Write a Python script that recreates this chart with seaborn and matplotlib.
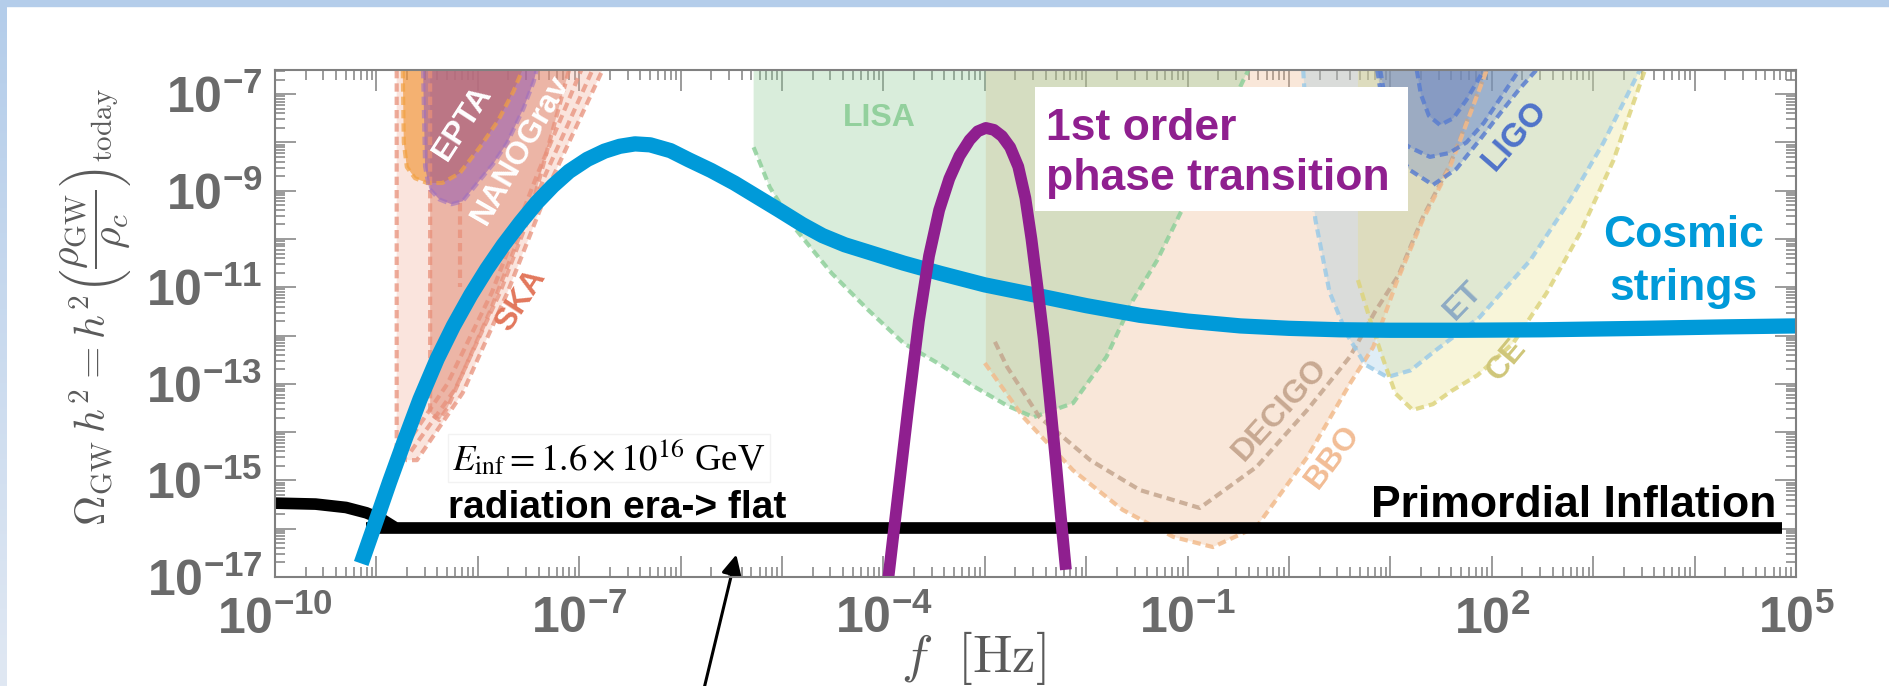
import numpy as np
import matplotlib
matplotlib.use("Agg")
import matplotlib.pyplot as plt
import seaborn as sns
from matplotlib.patches import Rectangle

# ---------------- data (log10 values) ----------------
# cosmic strings spectrum
cs_logf = [-9.15, -9.0, -8.87, -8.72, -8.57, -8.40, -8.24, -8.07, -7.91, -7.75, -7.58, -7.42,
           -7.26, -7.10, -6.92, -6.75, -6.60, -6.45, -6.30, -6.10, -5.92, -5.70, -5.47, -5.25,
           -5.03, -4.80, -4.60, -4.38, -4.15, -3.80, -3.44, -3.0, -2.46, -2.0, -1.47, -1.0,
           -0.48, 0.0, 0.5, 1.0, 1.69, 2.5, 3.5, 4.3, 5.0]
cs_logo = [-16.72, -15.82, -15.03, -14.16, -13.32, -12.48, -11.80, -11.16, -10.62, -10.13, -9.66, -9.25,
           -8.90, -8.60, -8.35, -8.18, -8.08, -8.03, -8.05, -8.17, -8.36, -8.58, -8.84, -9.12,
           -9.40, -9.70, -9.93, -10.12, -10.27, -10.50, -10.71, -10.95, -11.18, -11.38, -11.58, -11.70,
           -11.80, -11.85, -11.88, -11.89, -11.89, -11.88, -11.85, -11.82, -11.80]
# primordial inflation
inf_curve_logf = [-10.0, -9.6, -9.3, -9.1, -8.95, -8.82]
inf_curve_logo = [-15.47, -15.49, -15.56, -15.67, -15.80, -15.97]
inf_flat_logf = [-9.10, 4.86]
inf_flat_logo = [-15.99, -15.99]
# first order phase transition
pt_logf = [-3.95, -3.85, -3.75, -3.65, -3.55, -3.45, -3.35, -3.25, -3.15, -3.07, -2.99,
           -2.91, -2.83, -2.75, -2.67, -2.60, -2.54, -2.48, -2.42, -2.36, -2.30, -2.25, -2.20]
pt_logo = [-17.0, -15.2, -13.4, -11.7, -10.35, -9.4, -8.75, -8.28, -7.95, -7.77, -7.70,
           -7.74, -7.87, -8.10, -8.50, -9.15, -10.0, -11.0, -12.05, -13.3, -14.6, -15.75, -16.85]

# detector sensitivity curves
lisa_logf = [-5.28, -5.12, -4.86, -4.51, -4.15, -3.80, -3.44, -3.11, -2.78, -2.52, -2.13, -1.80,
             -1.54, -1.30, -1.07, -0.76, -0.45, -0.40]
lisa_logo = [-8.10, -8.93, -9.81, -10.71, -11.47, -12.16, -12.60, -13.05, -13.45, -13.69, -13.40, -12.44,
             -11.27, -10.44, -9.46, -8.10, -6.71, -6.5]
decigo_logf = [-2.90, -2.78, -2.46, -1.96, -1.47, -0.88, -0.32, 0.18, 0.60, 0.85, 1.08, 1.32, 1.59, 1.95]
decigo_logo = [-12.13, -12.65, -13.69, -14.58, -15.20, -15.57, -14.72, -13.54, -12.44, -11.5, -10.75,
               -9.55, -8.45, -6.5]
bbo_logf = [-3.0, -2.62, -2.13, -1.64, -1.14, -0.75, -0.32, 0.18, 0.60, 0.83, 1.06, 1.32, 1.59, 1.95]
bbo_logo = [-12.57, -13.69, -14.79, -15.61, -16.17, -16.38, -15.96, -14.52, -13.0, -12.24, -10.9,
            -9.6, -8.5, -6.5]
et_logf = [0.14, 0.19, 0.26, 0.40, 0.57, 0.75, 0.97, 1.20, 1.45, 1.88, 2.38, 2.77, 3.10, 3.46]
et_logo = [-6.5, -8.2, -9.6, -11.1, -11.97, -12.6, -12.86, -12.72, -12.3, -11.62, -10.44, -9.20, -8.01, -6.5]
ce_logf = [0.68, 0.80, 0.93, 1.05, 1.22, 1.42, 1.60, 1.86, 2.21, 2.54, 2.87, 3.20, 3.51]
ce_logo = [-10.85, -11.68, -12.5, -13.2, -13.54, -13.42, -13.15, -12.82, -12.16, -11.12, -9.88, -8.37, -6.5]
ligo1_logf = [1.26, 1.30, 1.38, 1.49, 1.62, 1.75, 1.88, 1.92]
ligo1_logo = [-6.5, -7.0, -7.45, -7.64, -7.5, -7.12, -6.65, -6.5]
ligo2_logf = [0.87, 0.93, 1.05, 1.19, 1.39, 1.58, 1.75, 1.92, 2.08, 2.27]
ligo2_logo = [-6.5, -7.3, -7.9, -8.10, -8.30, -8.22, -8.0, -7.6, -7.1, -6.5]
ligo3_logf = [0.90, 0.98, 1.10, 1.19, 1.42, 1.65, 1.88, 2.10, 2.27, 2.44]
ligo3_logo = [-6.5, -7.5, -8.3, -8.57, -8.88, -8.55, -7.95, -7.35, -6.9, -6.5]
# pulsar timing arrays
ska_logf = [-8.80, -8.80, -8.70, -8.60, -8.15, -7.71, -7.26, -6.77]
ska_logo = [-6.5, -14.40, -14.58, -14.58, -13.19, -11.12, -8.72, -6.5]
ska2_logf = [-8.66, -8.22, -7.78, -7.34, -6.87]
ska2_logo = [-14.4, -13.1, -11.1, -8.7, -6.5]
ska3_logf = [-8.72, -8.30, -7.86, -7.42, -6.98]
ska3_logo = [-14.3, -13.0, -11.1, -8.7, -6.5]
nano_logf = [-8.47, -8.47, -8.38, -8.30, -7.88, -7.45, -7.10]
nano_logo = [-6.5, -13.6, -13.75, -13.5, -11.5, -9.2, -6.5]
ppta_logf = [-8.18, -8.18]
ppta_logo = [-9.26, -11.0]
epta_logf = [-8.74, -8.73, -8.70, -8.62, -8.50, -8.35, -8.18, -7.98, -7.80, -7.65, -7.56]
epta_logo = [-6.5, -8.0, -8.51, -8.74, -8.84, -8.84, -8.64, -8.1, -7.55, -6.95, -6.5]
n11_logf = [-8.54, -8.52, -8.48, -8.38, -8.26, -8.15, -8.01, -7.85, -7.71, -7.55, -7.45, -7.42]
n11_logo = [-6.5, -8.5, -8.95, -9.18, -9.28, -9.22, -8.86, -8.45, -8.01, -7.3, -6.75, -6.5]

# axis ticks
x_major_exp = list(range(-10, 6))
x_label_exp = [-10, -7, -4, -1, 2, 5]
y_major_exp = list(range(-17, -6))
y_label_exp = [-17, -15, -13, -11, -9, -7]

# ---------------- figure ----------------
sns.set_theme(style="white")
plt.rcParams["font.family"] = ["Liberation Sans", "DejaVu Sans"]
plt.rcParams["mathtext.fontset"] = "cm"

W, H = 1889, 686
fig = plt.figure(figsize=(W / 100, H / 100), dpi=100, facecolor="white")

# slide border
fig.patches.append(Rectangle((0, 1 - 6 / H), 1, 6 / H, transform=fig.transFigure,
                             color="#b4cdea", zorder=0))
bax = fig.add_axes([0, 0, 7 / W, 1 - 6 / H])
grad = np.linspace(0, 1, 256)[:, None, None]
top_c = np.array([0xb4, 0xcd, 0xea]) / 255
bot_c = np.array([0xe0, 0xe8, 0xf3]) / 255
bax.imshow(top_c * (1 - grad) + bot_c * grad, aspect="auto", extent=[0, 1, 0, 1])
bax.axis("off")

ax = fig.add_axes([275 / W, 1 - 577 / H, 1521 / W, 507 / H])
ax.set_xscale("log")
ax.set_yscale("log")
ax.set_xlim(1e-10, 1e5)
ax.set_ylim(1e-17, 10 ** -6.5)
ax.set_facecolor("white")


def P(a):
    return 10.0 ** np.asarray(a, dtype=float)


def region(fx, fy, color, alpha, z=1.0):
    ax.fill(P(fx), P(fy), color=color, alpha=alpha, lw=0, zorder=z)


def dashed(fx, fy, color, z=2.0, lw=3.0, alpha=0.85):
    ax.plot(P(fx), P(fy), color=color, lw=lw, ls=(0, (2.0, 1.2)), alpha=alpha, zorder=z,
            solid_capstyle="butt", dash_capstyle="butt")


# DECIGO/BBO (peach)
region([-2.99, -2.99] + bbo_logf, [-6.5, -12.57] + bbo_logo, "#eeb284", 0.30, 1.0)
# LISA
region([-5.28] + lisa_logf, [-6.5] + lisa_logo, "#8aca91", 0.32, 1.1)
# ET
region(et_logf, et_logo, "#8cc0e0", 0.28, 1.2)
# CE
region([0.68] + ce_logf, [-6.5] + ce_logo, "#e6dc78", 0.28, 1.3)
# LIGO
for fx, fy in [(ligo3_logf, ligo3_logo), (ligo2_logf, ligo2_logo), (ligo1_logf, ligo1_logo)]:
    region(fx, fy, "#4a6fc8", 0.25, 1.4)
# PTAs
region(ska_logf, ska_logo, "#f0a890", 0.30, 1.5)
region(nano_logf, nano_logo, "#e08870", 0.50, 1.55)
region(epta_logf, epta_logo, "#f0902a", 0.60, 1.6)
region(n11_logf, n11_logo, "#8a4fb0", 0.50, 1.65)

dashed(lisa_logf, lisa_logo, "#8fd09b")
dashed(decigo_logf, decigo_logo, "#c4a68e")
dashed(bbo_logf, bbo_logo, "#f2bb8c")
dashed(et_logf, et_logo, "#9ccbe8")
dashed(ce_logf, ce_logo, "#ddd47e")
for fx, fy in [(ligo3_logf, ligo3_logo), (ligo2_logf, ligo2_logo), (ligo1_logf, ligo1_logo)]:
    dashed(fx, fy, "#5a7ed0")
for fx, fy in [(ska_logf, ska_logo), (ska2_logf, ska2_logo), (ska3_logf, ska3_logo),
               (nano_logf, nano_logo), (ppta_logf, ppta_logo)]:
    dashed(fx, fy, "#e8907a", alpha=0.75)
dashed(epta_logf, epta_logo, "#f2a040", alpha=0.7)
dashed(n11_logf, n11_logo, "#a070c0", alpha=0.6)

# region labels
lab = dict(fontweight="bold", ha="center", va="center", rotation_mode="anchor", zorder=2.5)
ax.text(P(-8.15), P(-7.6), "EPTA", color="white", fontsize=23, rotation=57, **lab)
ax.text(P(-7.58), P(-8.16), "NANOGrav", color="white", fontsize=23, rotation=60,
        clip_on=True, **lab)
ax.text(P(-7.58), P(-11.27), "SKA", color="#e2775c", fontsize=23, rotation=57, **lab)
ax.text(P(-4.04), P(-7.5), "LISA", color="#93d09d", fontsize=23, **lab)
ax.text(P(-0.09), P(-13.54), "DECIGO", color="#c8a992", fontsize=23, rotation=48, **lab)
ax.text(P(0.43), P(-14.52), "BBO", color="#f2bd96", fontsize=23, rotation=53, **lab)
ax.text(P(1.72), P(-11.27), "ET", color="#8eabc4", fontsize=23, rotation=46, **lab)
ax.text(P(2.15), P(-12.5), "CE", color="#cfc679", fontsize=23, rotation=50, **lab)
ax.text(P(2.23), P(-7.85), "LIGO", color="#4f73c9", fontsize=24, rotation=49, **lab)

# white box for the phase transition label
ax.add_patch(Rectangle((0.4997, 0.7219), 0.2453, 0.2446, transform=ax.transAxes,
                       facecolor="white", edgecolor="none", zorder=3))

# main curves
sns.lineplot(x=P(inf_curve_logf), y=P(inf_curve_logo), ax=ax, color="black", lw=8.4,
             sort=False, estimator=None, zorder=4, solid_capstyle="butt")
sns.lineplot(x=P(inf_flat_logf), y=P(inf_flat_logo), ax=ax, color="black", lw=8.4,
             sort=False, estimator=None, zorder=4, solid_capstyle="butt")
sns.lineplot(x=P(cs_logf), y=P(cs_logo), ax=ax, color="#009ad9", lw=11,
             sort=False, estimator=None, zorder=5, solid_capstyle="butt")
sns.lineplot(x=P(pt_logf), y=P(pt_logo), ax=ax, color="#8f1f8f", lw=8.5,
             sort=False, estimator=None, zorder=6, solid_capstyle="butt")

# annotations
bold = dict(fontweight="bold", transform=ax.transAxes, zorder=7)
ax.text(0.507, 0.862, "1st order", color="#8f1f8f", fontsize=32, ha="left", va="baseline", **bold)
ax.text(0.507, 0.763, "phase transition", color="#8f1f8f", fontsize=32, ha="left",
        va="baseline", **bold)
ax.text(0.9264, 0.651, "Cosmic", color="#009ad9", fontsize=32, ha="center", va="baseline", **bold)
ax.text(0.9264, 0.546, "strings", color="#009ad9", fontsize=32, ha="center", va="baseline", **bold)
ax.text(0.9869, 0.118, "Primordial Inflation", color="black", fontsize=32, ha="right",
        va="baseline", **bold)
ax.text(0.1137, 0.1164, "radiation era-> flat", color="black", fontsize=28, ha="left",
        va="baseline", **bold)
ax.text(0.1164, 0.211, r"$E_{\rm inf} = 1.6 \times 10^{16}$ GeV", color="black", fontsize=26.5,
        ha="left", va="baseline", family="Liberation Serif", math_fontfamily="stix",
        transform=ax.transAxes, zorder=7,
        bbox=dict(boxstyle="square,pad=0.12", facecolor="white", edgecolor="#f2f2f2", lw=1))

ax.annotate("", xy=(P(-5.444), P(-16.48)), xytext=(703 / W, -0.01), textcoords="figure fraction",
            arrowprops=dict(arrowstyle="-|>", color="black", lw=2.2, mutation_scale=30),
            annotation_clip=False, zorder=8)

# axes styling
gray = "#6a6a6a"
for s in ax.spines.values():
    s.set_color("#808080")
    s.set_linewidth(1.5)
    s.set_zorder(9)

tick_font = dict(fontweight="bold", fontsize=36, color=gray)
ax.set_xticks(P(x_major_exp),
              [r"$\mathdefault{10^{%d}}$" % e if e in x_label_exp else "" for e in x_major_exp],
              **tick_font)
ax.set_yticks(P(y_major_exp),
              [r"$\mathdefault{10^{%d}}$" % e if e in y_label_exp else "" for e in y_major_exp],
              **tick_font)
ax.xaxis.set_minor_locator(matplotlib.ticker.LogLocator(base=10, subs=np.arange(2, 10), numticks=100))
ax.yaxis.set_minor_locator(matplotlib.ticker.LogLocator(base=10, subs=np.arange(2, 10), numticks=100))
ax.xaxis.set_minor_formatter(matplotlib.ticker.NullFormatter())
ax.yaxis.set_minor_formatter(matplotlib.ticker.NullFormatter())
ax.tick_params(which="both", direction="in", top=True, right=True, bottom=True, left=True,
               color="#808080", width=1.1)
ax.tick_params(which="major", length=15)
ax.tick_params(which="minor", length=7.5)
ax.tick_params(axis="x", which="major", pad=13.5)
ax.tick_params(axis="y", which="major", pad=9)

ax.set_xlabel(r"$f\ \ [\mathrm{Hz}]$", fontsize=38, color="#5a5a5a", math_fontfamily="cm")
ax.xaxis.set_label_coords(0.459, -0.102)
ax.xaxis.label.set_va("top")
ax.set_ylabel(r"$\Omega_{\rm GW}\, h^2 = h^2 \left(\dfrac{\rho_{\rm GW}}{\rho_c}\right)_{\rm today}$",
              fontsize=30, color="#5a5a5a", math_fontfamily="cm")
ax.yaxis.set_label_coords(-0.0927, 0.5325)

fig.savefig("out.png", dpi=100, facecolor="white")
